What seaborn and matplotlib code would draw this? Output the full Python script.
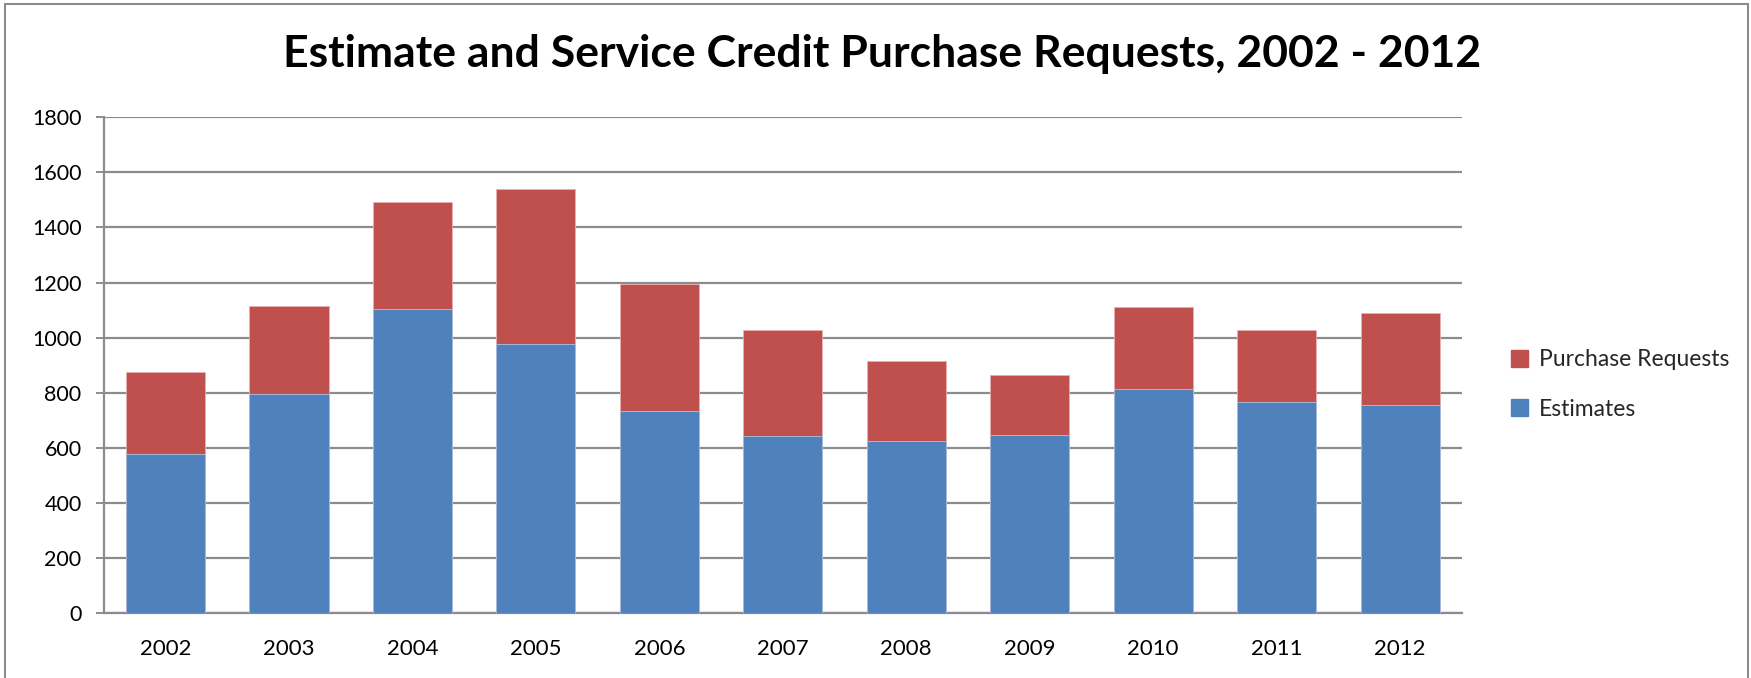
import matplotlib
matplotlib.use("Agg")
import matplotlib.pyplot as plt
import matplotlib.patches as mpatches
import seaborn as sns

# Values
years = ["2002", "2003", "2004", "2005", "2006", "2007", "2008", "2009", "2010", "2011", "2012"]
estimates = [578, 796, 1104, 977, 734, 644, 623, 646, 815, 766, 757]
purchase_requests = [298, 320, 387, 562, 460, 385, 292, 217, 296, 261, 332]
y_ticks = [0, 200, 400, 600, 800, 1000, 1200, 1400, 1600, 1800]

blue = "#4F81BD"
red = "#C0504D"
grid_grey = "#8C8C8C"

sns.set_style("white")
plt.rcParams['font.family'] = ['Lato', 'DejaVu Sans']

totals = [e + p for e, p in zip(estimates, purchase_requests)]

fig = plt.figure(figsize=(17.51, 6.78), dpi=100)
ax = fig.add_axes([0.0593, 0.0959, 0.7755, 0.7311])

# stacked bars: draw the total in red, then estimates in blue on top
sns.barplot(x=years, y=totals, color=red, saturation=1, width=0.64,
            edgecolor="#E8B0AE", linewidth=0.6, ax=ax, zorder=3)
sns.barplot(x=years, y=estimates, color=blue, saturation=1, width=0.64,
            edgecolor="#A9C2E0", linewidth=0.6, ax=ax, zorder=4)

ax.set_ylim(0, 1800)
ax.set_xlim(-0.5, len(years) - 0.5)
ax.set_yticks(y_ticks)
ax.yaxis.grid(True, color=grid_grey, linewidth=1.6, zorder=0)
ax.set_axisbelow(True)
ax.set_xlabel("")
ax.set_ylabel("")

for side in ["top", "right"]:
    ax.spines[side].set_visible(False)
for side in ["left", "bottom"]:
    ax.spines[side].set_color(grid_grey)
    ax.spines[side].set_linewidth(1.6)

ax.tick_params(axis="y", which="both", length=6, color=grid_grey, width=1.4,
               labelsize=15.5, pad=10, left=True, labelcolor="black")
ax.tick_params(axis="x", length=0, labelsize=16, pad=19, labelcolor="black")

fig.text(0.504, 0.92, "Estimate and Service Credit Purchase Requests, 2002 - 2012",
         ha="center", va="center", fontsize=32, fontweight="bold", color="black")

handles = [mpatches.Patch(color=red, label="Purchase Requests"),
           mpatches.Patch(color=blue, label="Estimates")]
fig.legend(handles=handles, loc="center left", bbox_to_anchor=(0.851, 0.433),
           frameon=False, fontsize=16.5, handlelength=0.75, handleheight=0.75,
           handletextpad=0.5, labelspacing=1.25)

# chart frame as in the source image
fig.patches.append(mpatches.Rectangle((5 / 1751, -0.1), 1743 / 1751, 1.1 - 4 / 678,
                                      transform=fig.transFigure, fill=False,
                                      edgecolor="#8C8C8C", linewidth=1.5))

fig.savefig("out.png", dpi=100)
